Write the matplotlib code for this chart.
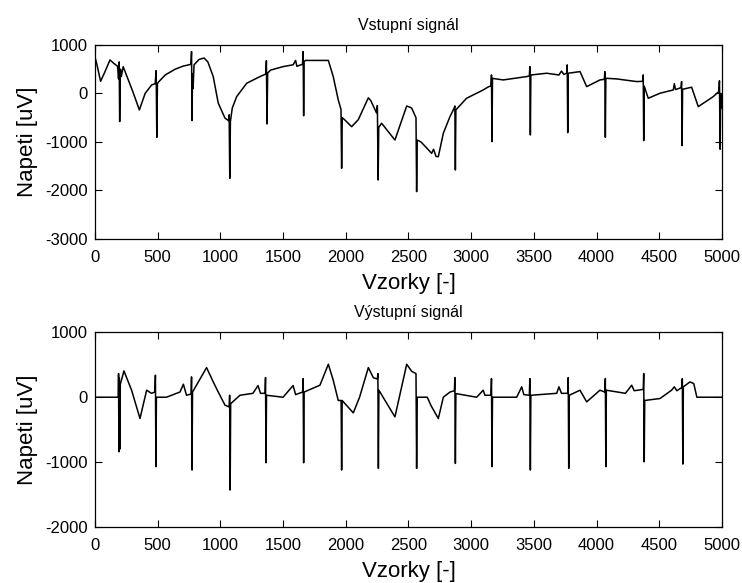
import matplotlib
matplotlib.use("Agg")
import matplotlib.pyplot as plt
import numpy as np

plt.rcParams['font.family'] = ['Liberation Sans', 'DejaVu Sans']
plt.rcParams['axes.unicode_minus'] = False

# input signal breakpoints (sample index, uV)
input_samples = [0, 15, 45, 80, 120, 150, 180, 188, 193, 197, 203, 210, 225, 240, 300,
                 354, 400, 452, 480, 488, 493, 498, 505, 560, 640, 700, 765, 770, 774,
                 778, 782, 790, 830, 870, 900, 943, 983, 1037, 1065, 1070, 1075, 1080,
                 1095, 1130, 1210, 1316, 1362, 1367, 1372, 1377, 1400, 1501, 1580, 1600,
                 1610, 1655, 1660, 1664, 1668, 1680, 1861, 1900, 1940, 1962, 1967, 1972,
                 1990, 2047, 2100, 2180, 2200, 2245, 2252, 2258, 2263, 2286, 2392, 2486,
                 2525, 2560, 2565, 2570, 2600, 2685, 2700, 2720, 2738, 2778, 2831, 2865,
                 2870, 2874, 2878, 2963, 3096, 3140, 3158, 3162, 3166, 3170, 3256, 3442,
                 3464, 3468, 3472, 3476, 3602, 3700, 3720, 3740, 3762, 3766, 3770, 3774,
                 3868, 3921, 4027, 4062, 4066, 4070, 4074, 4160, 4320, 4368, 4372, 4376,
                 4380, 4412, 4506, 4612, 4620, 4630, 4674, 4678, 4682, 4686, 4758, 4811,
                 4931, 4975, 4980, 4985, 4990, 5000]
input_uv = [750, 600, 250, 450, 690, 620, 560, 300, 650, -580, 500, 350, 550, 450, 50,
            -340, 0, 175, 200, 470, -905, 200, 230, 380, 500, 560, 600, 862, -560,
            400, 100, 590, 700, 730, 650, 347, -200, -510, -560, -440, -1750, -580,
            -300, -65, 210, 347, 400, 676, -630, 420, 480, 553, 590, 680,
            560, 600, 862, -460, 660, 680, 680, 347, -134, -330, -1542, -500,
            -540, -685, -540, -90, -150, -400, -250, -1784, -700, -615, -960, -258,
            -300, -500, -2024, -960, -1000, -1234, -1150, -1300, -1303, -820, -478, -300,
            -258, -1578, -340, -100, 72, 140, 150, 381, -993, 310, 278, 347,
            360, 553, -856, 380, 416, 380, 460, 390, 420, 588, -808, 416,
            450, 140, 278, 290, 450, -905, 312, 299, 244, 250, 381, -973,
            150, -100, 4, 72, 200, 80, 120, 244, -1076, 85, 128, -272,
            -65, 40, 260, -1150, 0, -300]

# output signal breakpoints (sample index, uV)
output_samples = [0, 186, 188, 191, 194, 198, 202, 231, 292, 359, 412, 450, 478, 482, 486,
                  490, 570, 678, 705, 730, 767, 770, 774, 778, 890, 943, 983, 1037, 1070,
                  1074, 1078, 1082, 1156, 1260, 1300, 1320, 1356, 1360, 1364, 1368, 1500,
                  1580, 1600, 1656, 1660, 1664, 1668, 1794, 1861, 1900, 1940, 1963, 1967,
                  1971, 2060, 2110, 2180, 2220, 2252, 2256, 2260, 2264, 2392, 2486, 2525,
                  2560, 2565, 2570, 2650, 2680, 2738, 2778, 2831, 2866, 2870, 2874, 2878,
                  3044, 3096, 3110, 3158, 3162, 3166, 3170, 3363, 3403, 3420, 3464, 3468,
                  3472, 3476, 3682, 3700, 3720, 3770, 3774, 3778, 3782, 3868, 3921, 4027,
                  4066, 4070, 4074, 4078, 4230, 4280, 4300, 4372, 4376, 4380, 4384, 4506,
                  4598, 4620, 4640, 4680, 4684, 4688, 4692, 4745, 4775, 4800, 5000]
output_uv = [0, 0, 364, -841, 300, -800, 200, 405, 108, -328, 108, 60, 80, 339, -1071,
             0, 0, 80, 200, 30, 50, 313, -1122, 80, 456, 236, 80, -123, -150,
             30, -1430, -100, 30, 60, 180, 60, 60, 303, -1010, 30, 0,
             180, 40, 80, 287, -1010, 80, 185, 508, 262, -50, -50, -1122,
             -50, -241, 0, 456, 300, 280, 364, -1097, 108, -303, 508, 400,
             364, -1097, 0, 0, -130, -328, 0, 80, 100, 303, -1020, 56,
             0, 108, 30, 30, 287, -1071, 0, 0, 160, 40, 30, 287,
             -1122, 30, 60, 160, 60, 60, 303, -1097, 30, 108, -72, 108,
             80, 287, -1071, 108, 60, 185, 100, 120, 364, -995, -50, -20,
             108, 160, 100, 150, 287, -1030, 160, 236, 210, 0, 0]

fig = plt.figure(figsize=(7.42, 5.83), dpi=100)
ax1 = fig.add_axes([0.128, 0.590, 0.845, 0.333])
ax2 = fig.add_axes([0.128, 0.096, 0.845, 0.334])


def style(ax, title, ylim, yticks):
    ax.set_xlim(0, 5000)
    ax.set_ylim(*ylim)
    ax.set_xticks(np.arange(0, 5001, 500))
    ax.set_yticks(yticks)
    ax.tick_params(direction='in', top=True, right=True, length=5,
                   labelsize=12, width=0.8)
    ax.tick_params(axis='x', pad=8)
    ax.tick_params(axis='y', pad=5)
    for sp in ax.spines.values():
        sp.set_linewidth(0.9)
    ax.set_title(title, fontsize=11.5, pad=11)
    ax.set_xlabel('Vzorky [-]', fontsize=16, labelpad=6)
    ax.set_ylabel('Napeti [uV]', fontsize=16, labelpad=5)


ax1.plot(input_samples, input_uv, color='black', linewidth=1.1)
style(ax1, 'Vstupní signál', (-3000, 1000), [-3000, -2000, -1000, 0, 1000])

ax2.plot(output_samples, output_uv, color='black', linewidth=1.1)
style(ax2, 'Výstupní signál', (-2000, 1000), [-2000, -1000, 0, 1000])

fig.savefig('out.png', dpi=100)
